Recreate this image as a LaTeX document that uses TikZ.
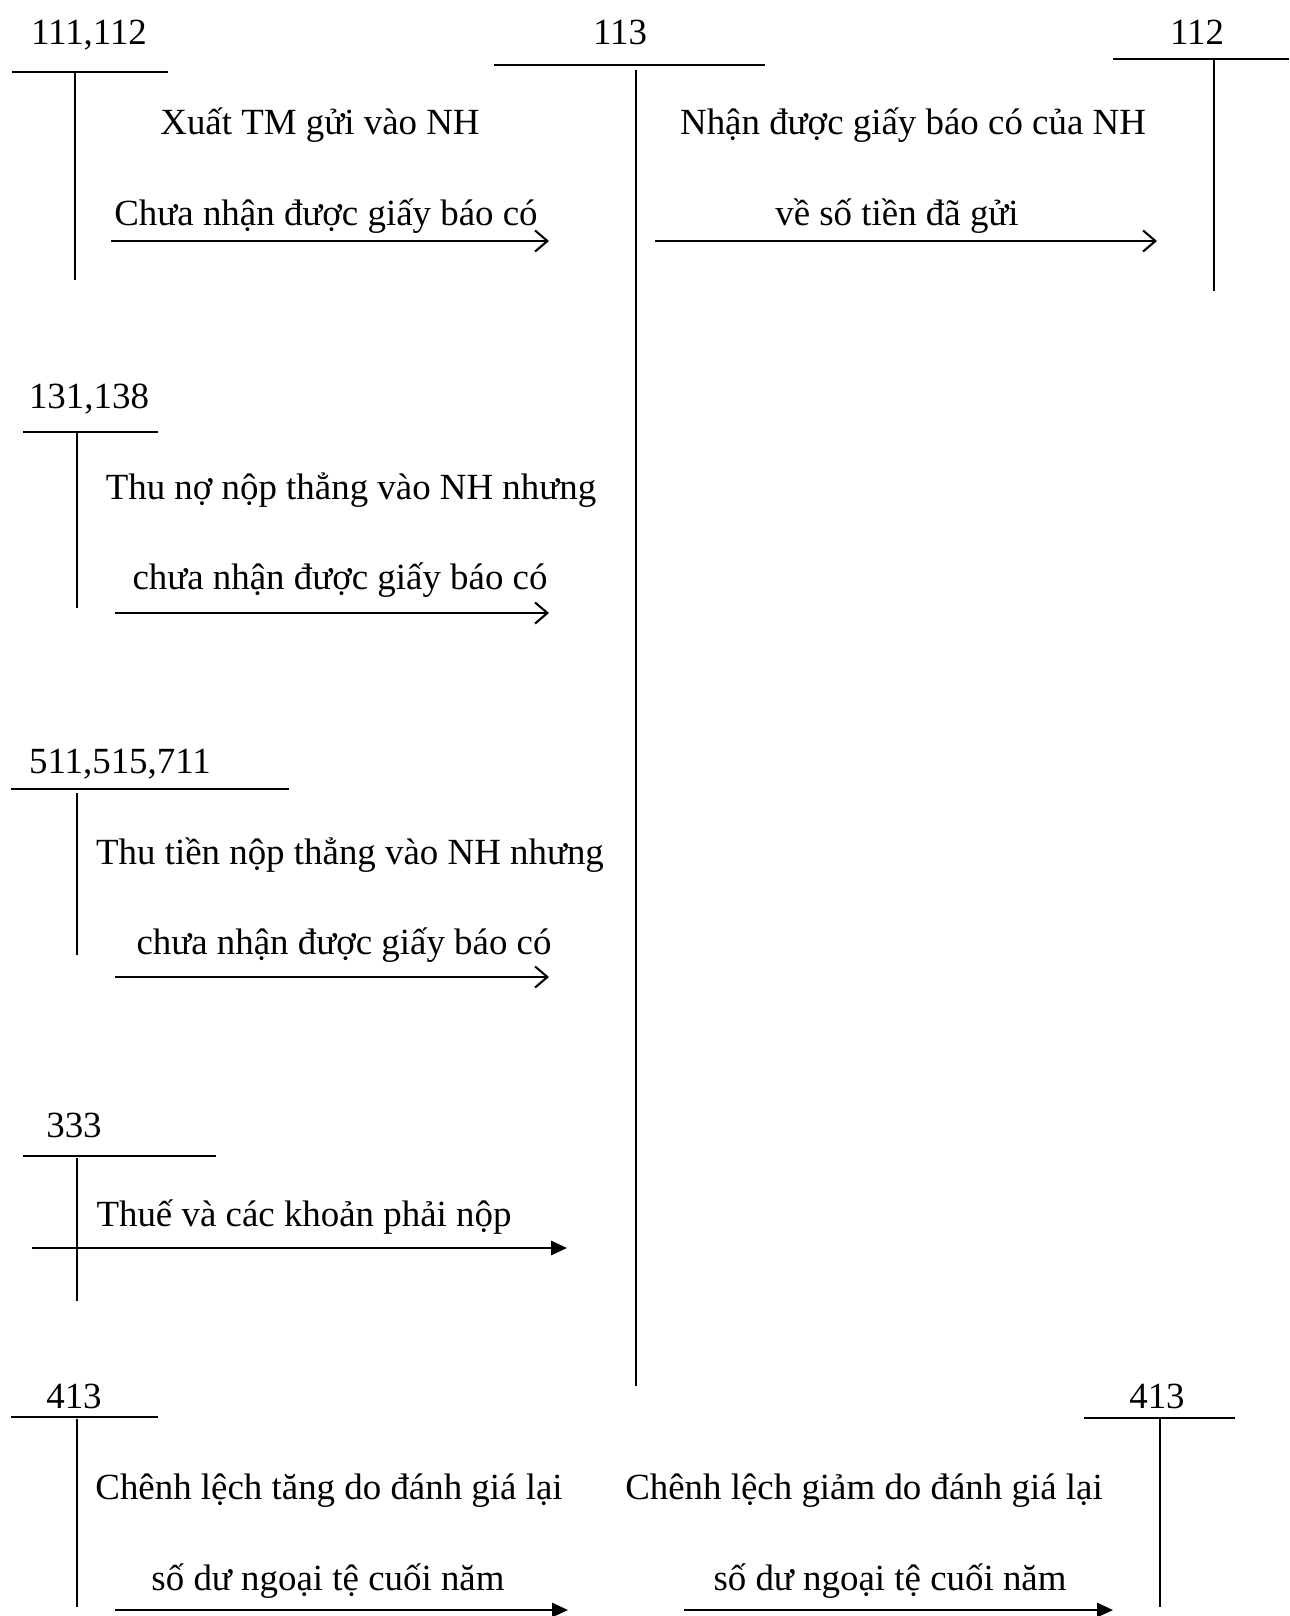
\documentclass[tikz,border=0pt]{standalone}
\usepackage{fontspec}
\setmainfont{Liberation Serif}
\usetikzlibrary{arrows.meta}
\begin{document}
\begin{tikzpicture}[x=0.02cm,y=-0.02cm,
  every node/.style={inner sep=0pt, outer sep=0pt, font=\fontsize{21}{25}\selectfont},
  txt/.style={anchor=base},
  tline/.style={line width=1.1pt},
  openarrow/.style={line width=1.3pt, -{Straight Barb[length=7pt,width=12pt,line width=1.2pt]}},
  fillarrow/.style={line width=1.3pt, -{Triangle[length=9pt,width=8pt]}}]
\useasboundingbox (0,0) rectangle (1289,1616);

% ---- account 111,112 ----
\node[txt] (acc111) at (89,44) {111,112};
\draw[tline] (12,72) -- (168,72);
\draw[tline] (75,72) -- (75,280);

% ---- account 113 ----
\node[txt] (acc113) at (620,44) {113};
\draw[tline] (494,65) -- (765,65);
\draw[tline] (636,70) -- (636,1386);

% ---- account 112 ----
\node[txt] (acc112) at (1197,44) {112};
\draw[tline] (1113,59) -- (1289,59);
\draw[tline] (1214,60) -- (1214,291);

% cash deposited, no credit note yet
\node[txt] (t1a) at (320,134) {Xuất TM gửi vào NH};
\node[txt] (t1b) at (326,225) {Chưa nhận được giấy báo có};
\coordinate (s1) at (111,241); \coordinate (e1) at (549,241);
\draw[openarrow] (s1) -- (e1);

% credit note received
\node[txt] (t2a) at (913,134) {Nhận được giấy báo có của NH};
\node[txt] (t2b) at (897,225) {về số tiền đã gửi};
\coordinate (s2) at (655,241); \coordinate (e2) at (1157,241);
\draw[openarrow] (s2) -- (e2);

% ---- account 131,138 ----
\node[txt] (acc131) at (89,408) {131,138};
\draw[tline] (23,432) -- (158,432);
\draw[tline] (77,432) -- (77,608);
\node[txt] (t3a) at (351,499) {Thu nợ nộp thẳng vào NH nhưng};
\node[txt] (t3b) at (340,589) {chưa nhận được giấy báo có};
\coordinate (s3) at (115,613); \coordinate (e3) at (549,613);
\draw[openarrow] (s3) -- (e3);

% ---- account 511,515,711 ----
\node[txt] (acc511) at (120,773) {511,515,711};
\draw[tline] (11,789) -- (289,789);
\draw[tline] (77,793) -- (77,955);
\node[txt] (t4a) at (350,864) {Thu tiền nộp thẳng vào NH nhưng};
\node[txt] (t4b) at (344,954) {chưa nhận được giấy báo có};
\coordinate (s4) at (115,977); \coordinate (e4) at (549,977);
\draw[openarrow] (s4) -- (e4);

% ---- account 333 ----
\node[txt] (acc333) at (74,1137) {333};
\draw[tline] (23,1156) -- (216,1156);
\draw[tline] (77,1158) -- (77,1301);
\node[txt] (t5) at (304,1226) {Thuế và các khoản phải nộp};
\coordinate (s5) at (32,1248); \coordinate (e5) at (567,1248);
\draw[fillarrow] (s5) -- (e5);

% ---- account 413 (left) ----
\node[txt] (acc413a) at (74,1408) {413};
\draw[tline] (11,1417) -- (158,1417);
\draw[tline] (77,1419) -- (77,1607);
\node[txt] (t6a) at (329,1499) {Chênh lệch tăng do đánh giá lại};
\node[txt] (t6b) at (328,1590) {số dư ngoại tệ cuối năm};
\coordinate (s6) at (115,1610); \coordinate (e6) at (568,1610);
\draw[fillarrow] (s6) -- (e6);

% ---- account 413 (right) ----
\node[txt] (acc413b) at (1157,1408) {413};
\draw[tline] (1084,1418) -- (1235,1418);
\draw[tline] (1160,1419) -- (1160,1607);
\node[txt] (t7a) at (864,1499) {Chênh lệch giảm do đánh giá lại};
\node[txt] (t7b) at (890,1590) {số dư ngoại tệ cuối năm};
\coordinate (s7) at (684,1610); \coordinate (e7) at (1113,1610);
\draw[fillarrow] (s7) -- (e7);
\end{tikzpicture}
\end{document}
